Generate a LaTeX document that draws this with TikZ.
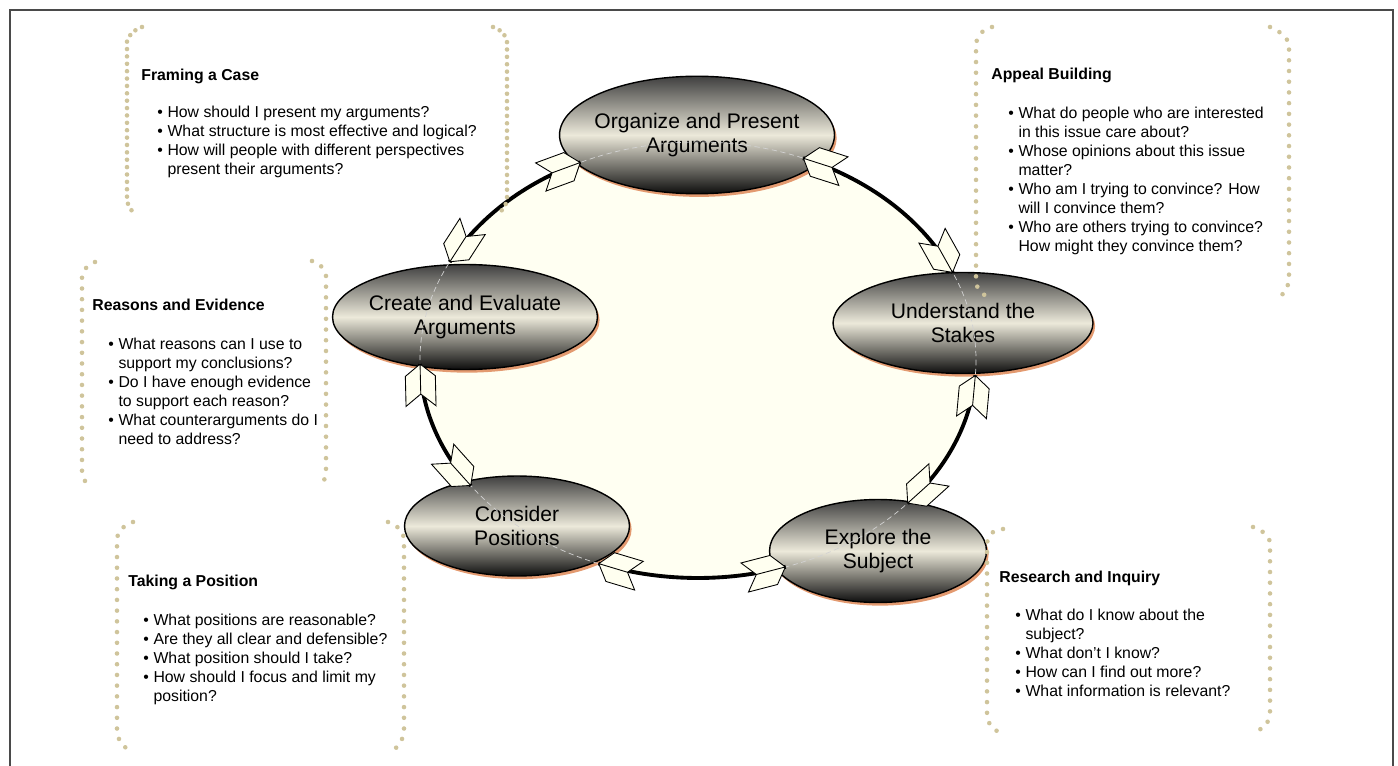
\documentclass[tikz,border=0pt]{standalone}
\usepackage{fontspec}
\setmainfont{Liberation Sans}
\usetikzlibrary{shapes.geometric,shadows,decorations.markings}

\definecolor{cream}{HTML}{FFFFF2}
\definecolor{chevfill}{HTML}{FFFFF0}
\definecolor{glow}{HTML}{ECE9DA}
\definecolor{rim}{HTML}{E39A70}
\definecolor{dotcol}{HTML}{CFC49B}
\definecolor{framecol}{HTML}{4A4A4A}

\newcommand{\bitem}{\makebox[5.8pt][l]{\textbullet}}
\newcommand{\bcont}{\hspace*{5.8pt}}
\newcommand{\chevron}[1]{\draw[fill=chevfill, line width=0.5pt, xscale=#1] (0,0) -- (-12,15) -- (-42,15) -- (-30,0) -- (-42,-15) -- (-12,-15) -- cycle (0,0) -- (-30,0);}

\tikzset{
    stage/.style={ellipse, draw=black, line width=0.8pt, inner ysep=0pt, inner xsep=-4pt, align=center,
        top color=black!75, bottom color=black!95, middle color=glow,
        drop shadow={shadow xshift=1.2pt, shadow yshift=-1.8pt, fill=rim, opacity=1},
        font=\fontsize{12}{13.2}\selectfont},
    cyclearc/.style={line width=2.2pt, postaction={decorate}, decoration={markings,
        mark=at position 0.002 with {\chevron{-1}},
        mark=at position 0.998 with {\chevron{1}}}},
    dotline/.style={dotcol, line width=2.6pt, line cap=round, dash pattern=on 0pt off #1},
    dotline/.default=6.1pt,
    boxhead/.style={anchor=base west, inner sep=0pt, font=\fontsize{9}{10.8}\selectfont\bfseries},
    boxlist/.style={anchor=north west, inner sep=0pt, align=left, font=\fontsize{9}{10.8}\selectfont},
}

\begin{document}
\begin{tikzpicture}[x=0.02cm, y=-0.02cm]
    \useasboundingbox (0,0) rectangle (1398,766);
    \draw[framecol, line width=1pt] (10,790) -- (10,10) -- (1393,10) -- (1393,790);

    \coordinate (hub) at (698,360);
    \fill[cream] (hub) ellipse [x radius=278, y radius=218];

    \node[stage, minimum width=5.5cm, minimum height=2.35cm] (organize) at (697,135) {Organize and Present\\Arguments};
    \node[stage, minimum width=5.2cm, minimum height=2.02cm] (stakes) at (963,323) {Understand the\\Stakes};
    \node[stage, minimum width=4.34cm, minimum height=2.06cm] (explore) at (878,551) {Explore the\\Subject};
    \node[stage, minimum width=4.5cm, minimum height=2.0cm] (consider) at (517,526) {Consider\\Positions};
    \node[stage, minimum width=5.3cm, minimum height=2.1cm] (create) at (465,317) {Create and Evaluate\\Arguments};

    \draw[gray!35, line width=0.4pt, densely dashed] (hub) ellipse [x radius=278, y radius=218];

    \path (hub) ++(245:278 and 218) coordinate (organize-w)
          (hub) ++(206.7:278 and 218) coordinate (create-n)
          (hub) ++(179:278 and 218) coordinate (create-s)
          (hub) ++(144.8:278 and 218) coordinate (consider-n)
          (hub) ++(111:278 and 218) coordinate (consider-e)
          (hub) ++(71.6:278 and 218) coordinate (explore-w)
          (hub) ++(41.1:278 and 218) coordinate (explore-n)
          (hub) ++(4:278 and 218) coordinate (stakes-s)
          (hub) ++(-23.6:278 and 218) coordinate (stakes-n)
          (hub) ++(-67.8:278 and 218) coordinate (organize-e);

    \draw[cyclearc] (organize-w) arc[start angle=245, end angle=206.7, x radius=278, y radius=218];
    \draw[cyclearc] (create-s) arc[start angle=179, end angle=144.8, x radius=278, y radius=218];
    \draw[cyclearc] (consider-e) arc[start angle=111, end angle=71.6, x radius=278, y radius=218];
    \draw[cyclearc] (explore-n) arc[start angle=41.1, end angle=4, x radius=278, y radius=218];
    \draw[cyclearc] (stakes-n) arc[start angle=-23.6, end angle=-67.8, x radius=278, y radius=218];

    % framing a case
    \draw[dotline=4.2pt] (142,27) -- (132,32) -- (127,41) -- (127,202) -- (133,213);
    \draw[dotline=4.2pt] (493,27) -- (503,32) -- (507,41) -- (507,202) -- (500,213);
    \node[boxhead] (framing) at (141,80.5) {Framing a Case};
    \node[boxlist] (framing-list) at (157,106) {\bitem How should I present my arguments?\\
        \bitem What structure is most effective and logical?\\
        \bitem How will people with different perspectives\\
        \bcont present their arguments?};

    % appeal building
    \draw[dotline] (992,27) -- (982,32) -- (976,42) -- (976,285) -- (983,294) -- (992,300);
    \draw[dotline] (1270,27) -- (1281,33) -- (1289,42) -- (1289,282) -- (1285,292) -- (1277,299);
    \node[boxhead] (appeal) at (991,79.5) {Appeal Building};
    \node[boxlist] (appeal-list) at (1008,107) {\bitem What do people who are interested\\
        \bcont in this issue care about?\\
        \bitem Whose opinions about this issue\\
        \bcont matter?\\
        \bitem Who am I trying to convince? How\\
        \bcont will I convince them?\\
        \bitem Who are others trying to convince?\\
        \bcont How might they convince them?};

    % reasons and evidence
    \draw[dotline] (95,262) -- (86,268) -- (82,277) -- (82,472) -- (85,481) -- (90,488);
    \draw[dotline] (312,261) -- (321,266) -- (326,276) -- (326,472) -- (324,481) -- (320,486);
    \node[boxhead] (reasons) at (92,310.5) {Reasons and Evidence};
    \node[boxlist] (reasons-list) at (108,338) {\bitem What reasons can I use to\\
        \bcont support my conclusions?\\
        \bitem Do I have enough evidence\\
        \bcont to support each reason?\\
        \bitem What counterarguments do I\\
        \bcont need to address?};

    % taking a position
    \draw[dotline] (133,522) -- (122,528) -- (117,537) -- (117,733) -- (120,742) -- (127,749);
    \draw[dotline] (388,522) -- (399,528) -- (404,537) -- (404,733) -- (401,742) -- (395,749);
    \node[boxhead] (taking) at (128,586.5) {Taking a Position};
    \node[boxlist] (taking-list) at (143,614) {\bitem What positions are reasonable?\\
        \bitem Are they all clear and defensible?\\
        \bitem What position should I take?\\
        \bitem How should I focus and limit my\\
        \bcont position?};

    % research and inquiry
    \draw[dotline] (1003,529) -- (993,532) -- (987,542) -- (987,717) -- (990,725) -- (998,732);
    \draw[dotline] (1253,527) -- (1263,532) -- (1270,541) -- (1270,712) -- (1267,724) -- (1258,731);
    \node[boxhead] (research) at (999,582.5) {Research and Inquiry};
    \node[boxlist] (research-list) at (1015,609) {\bitem What do I know about the\\
        \bcont subject?\\
        \bitem What don’t I know?\\
        \bitem How can I find out more?\\
        \bitem What information is relevant?};
\end{tikzpicture}
\end{document}
